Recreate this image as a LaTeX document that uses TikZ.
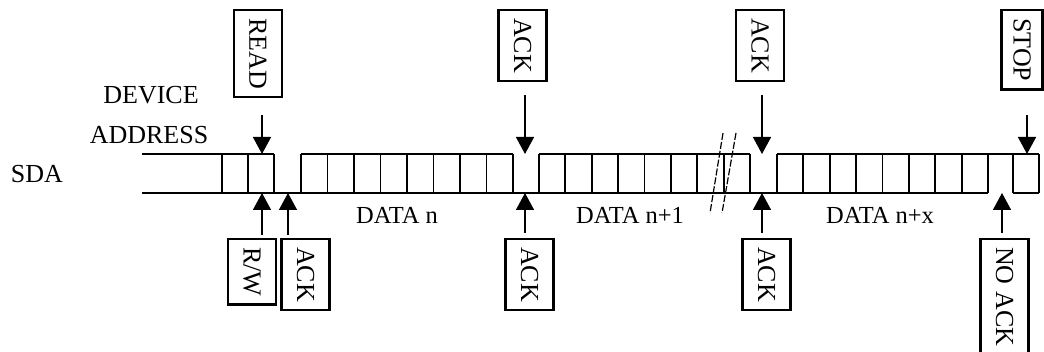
\documentclass[tikz,border=0pt]{standalone}
\usepackage{fontspec}
\setmainfont{Liberation Serif}
\usetikzlibrary{arrows.meta}
\begin{document}
\begin{tikzpicture}[x=1pt,y=-1pt,
  bus/.style={line width=1.8pt},
  lbl/.style={draw, line width=2.4pt, rotate=-90, anchor=west, minimum height=48pt,
    inner xsep=8pt, inner ysep=0pt, font=\fontsize{26}{30}\selectfont},
  ptr/.style={line width=1.5pt, -{Triangle[width=18pt,length=17pt]}},
  txt/.style={font=\fontsize{26}{30}\selectfont, inner sep=0pt},
  dtxt/.style={font=\fontsize{24.5}{28}\selectfont, inner sep=0pt},
  brk/.style={line width=1.2pt, dash pattern=on 7pt off 2pt}]
\useasboundingbox (0,0) rectangle (1044,352);

% bus lines
\draw[bus] (142,154) -- (274,154);
\draw[bus] (301,154) -- (513,154);
\draw[bus] (539,154) -- (750,154);
\draw[bus] (777,154) -- (1039,154);
\draw[bus] (142,193) -- (988,193);
\draw[bus] (1013,193) -- (1039,193);
\foreach \x in {222,248,274,1013,1039}
  \draw[bus] (\x,154) -- (\x,193);
\foreach \s/\e in {301/513, 539/750, 777/988}
  \foreach \i in {0,...,8}
    \draw[bus] ({\s+\i*(\e-\s)/8},154) -- ({\s+\i*(\e-\s)/8},193);

% break marks
\draw[brk] (723,133) -- (710,213);
\draw[brk] (736,133) -- (722,213);

% texts
\node[txt] (sda) at (37,174) {SDA};
\node[txt] (dev) at (151,95.5) {DEVICE};
\node[txt] (addr) at (149,135) {ADDRESS};
\node[dtxt] (dn) at (397,215) {DATA n};
\node[dtxt] (dn1) at (630,215) {DATA n+1};
\node[dtxt] (dnx) at (880,215) {DATA n+x};

% label boxes
\node[lbl] (read) at (258,9) {READ};
\node[lbl] (ackt1) at (522.5,9) {ACK};
\node[lbl] (ackt2) at (760,9) {ACK};
\node[lbl, minimum height=41pt] (stop) at (1022,9) {STOP};
\node[lbl] (rw) at (252,238) {R/W};
\node[lbl] (ackb0) at (305.5,238) {ACK};
\node[lbl] (ackb1) at (529.5,238) {ACK};
\node[lbl] (ackb2) at (766.5,238) {ACK};
\node[lbl] (nack) at (1004.5,238) {NO ACK};

% arrow coordinates
\coordinate (readS) at (262,115);  \coordinate (readE) at (262,154);
\coordinate (at1S) at (525,95);    \coordinate (at1E) at (525,154);
\coordinate (at2S) at (762,95);    \coordinate (at2E) at (762,154);
\coordinate (stopS) at (1027,115); \coordinate (stopE) at (1027,154);
\coordinate (rwS) at (262,235);    \coordinate (rwE) at (262,193);
\coordinate (ab0S) at (288,235);   \coordinate (ab0E) at (288,193);
\coordinate (ab1S) at (525,233);   \coordinate (ab1E) at (525,193);
\coordinate (ab2S) at (762,233);   \coordinate (ab2E) at (762,193);
\coordinate (nackS) at (1002,233); \coordinate (nackE) at (1002,193);

\draw[ptr] (readS) -- (readE);
\draw[ptr] (at1S) -- (at1E);
\draw[ptr] (at2S) -- (at2E);
\draw[ptr] (stopS) -- (stopE);
\draw[ptr] (rwS) -- (rwE);
\draw[ptr] (ab0S) -- (ab0E);
\draw[ptr] (ab1S) -- (ab1E);
\draw[ptr] (ab2S) -- (ab2E);
\draw[ptr] (nackS) -- (nackE);
\end{tikzpicture}
\end{document}
